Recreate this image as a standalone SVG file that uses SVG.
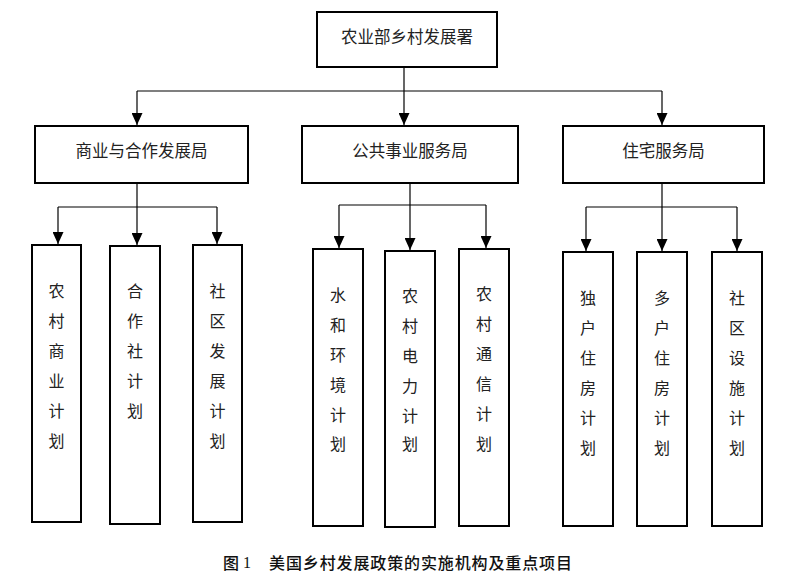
<svg xmlns="http://www.w3.org/2000/svg" width="802" height="576" viewBox="0 0 802 576">
<style>
.box{fill:#fff;stroke:#000;stroke-width:2}
.t{font-family:"Noto Sans CJK SC","Liberation Serif",sans-serif;font-size:16.5px;fill:#222;text-anchor:middle;dominant-baseline:central}
.v{font-family:"Noto Sans CJK SC","Liberation Serif",sans-serif;font-size:16px;fill:#222;text-anchor:middle;dominant-baseline:central}
.c{fill:none;stroke:#000;stroke-width:1.2}
.cap{font-family:"Noto Sans CJK SC",sans-serif;font-size:16px;fill:#111;dominant-baseline:central;font-weight:500}
</style>
<defs>
<marker id="ah" markerWidth="12" markerHeight="11" refX="12" refY="5.5" orient="auto" markerUnits="userSpaceOnUse">
<path d="M0,0 L12,5.5 L0,11 Z" fill="#000"/>
</marker>
</defs>
<rect width="802" height="576" fill="#fff"/>
<g id="connectors">
<path class="c" d="M404,67 V125" marker-end="url(#ah)"/>
<path class="c" d="M137,91 H662"/>
<path class="c" d="M137,91 V125" marker-end="url(#ah)"/>
<path class="c" d="M662,91 V125" marker-end="url(#ah)"/>
<path class="c" d="M137,183 V245" marker-end="url(#ah)"/>
<path class="c" d="M58,207 H217"/>
<path class="c" d="M58,207 V244" marker-end="url(#ah)"/>
<path class="c" d="M217,207 V244" marker-end="url(#ah)"/>
<path class="c" d="M410,183 V250" marker-end="url(#ah)"/>
<path class="c" d="M339,205 H486"/>
<path class="c" d="M339,205 V248" marker-end="url(#ah)"/>
<path class="c" d="M486,205 V248" marker-end="url(#ah)"/>
<path class="c" d="M662,183 V251" marker-end="url(#ah)"/>
<path class="c" d="M586,207 H737"/>
<path class="c" d="M586,207 V251" marker-end="url(#ah)"/>
<path class="c" d="M737,207 V251" marker-end="url(#ah)"/>
</g>
<g id="root"><rect class="box" x="317" y="12" width="180" height="55"/><text class="t" x="407" y="36">农业部乡村发展署</text></g>
<g id="b1"><rect class="box" x="35" y="126" width="213" height="57"/><text class="t" x="141.5" y="150">商业与合作发展局</text></g>
<g id="b2"><rect class="box" x="302" y="126" width="216" height="57"/><text class="t" x="410" y="150">公共事业服务局</text></g>
<g id="b3"><rect class="box" x="563" y="126" width="201" height="57"/><text class="t" x="663.5" y="150">住宅服务局</text></g>
<g id="p1"><rect class="box" x="32" y="245" width="49" height="277"/><text class="v"><tspan x="56.5" y="290">农</tspan><tspan x="56.5" y="320">村</tspan><tspan x="56.5" y="350">商</tspan><tspan x="56.5" y="380">业</tspan><tspan x="56.5" y="410">计</tspan><tspan x="56.5" y="440">划</tspan></text></g>
<g id="p2"><rect class="box" x="110" y="246" width="50" height="278"/><text class="v"><tspan x="135" y="290">合</tspan><tspan x="135" y="320">作</tspan><tspan x="135" y="350">社</tspan><tspan x="135" y="380">计</tspan><tspan x="135" y="410">划</tspan></text></g>
<g id="p3"><rect class="box" x="193" y="245" width="49" height="277"/><text class="v"><tspan x="217.5" y="290">社</tspan><tspan x="217.5" y="320">区</tspan><tspan x="217.5" y="350">发</tspan><tspan x="217.5" y="380">展</tspan><tspan x="217.5" y="410">计</tspan><tspan x="217.5" y="440">划</tspan></text></g>
<g id="p4"><rect class="box" x="313" y="249" width="50" height="277"/><text class="v"><tspan x="338" y="294">水</tspan><tspan x="338" y="324">和</tspan><tspan x="338" y="354">环</tspan><tspan x="338" y="384">境</tspan><tspan x="338" y="414">计</tspan><tspan x="338" y="443">划</tspan></text></g>
<g id="p5"><rect class="box" x="385" y="251" width="50" height="276"/><text class="v"><tspan x="410" y="295">农</tspan><tspan x="410" y="325">村</tspan><tspan x="410" y="355">电</tspan><tspan x="410" y="385">力</tspan><tspan x="410" y="415">计</tspan><tspan x="410" y="443">划</tspan></text></g>
<g id="p6"><rect class="box" x="459" y="249" width="50" height="277"/><text class="v"><tspan x="484" y="293">农</tspan><tspan x="484" y="323">村</tspan><tspan x="484" y="353">通</tspan><tspan x="484" y="383">信</tspan><tspan x="484" y="413">计</tspan><tspan x="484" y="443">划</tspan></text></g>
<g id="p7"><rect class="box" x="563" y="252" width="50" height="274"/><text class="v"><tspan x="588" y="297">独</tspan><tspan x="588" y="327">户</tspan><tspan x="588" y="357">住</tspan><tspan x="588" y="387">房</tspan><tspan x="588" y="417">计</tspan><tspan x="588" y="447">划</tspan></text></g>
<g id="p8"><rect class="box" x="637" y="252" width="50" height="274"/><text class="v"><tspan x="662" y="297">多</tspan><tspan x="662" y="327">户</tspan><tspan x="662" y="357">住</tspan><tspan x="662" y="387">房</tspan><tspan x="662" y="417">计</tspan><tspan x="662" y="447">划</tspan></text></g>
<g id="p9"><rect class="box" x="712" y="252" width="50" height="274"/><text class="v"><tspan x="737" y="297">社</tspan><tspan x="737" y="327">区</tspan><tspan x="737" y="357">设</tspan><tspan x="737" y="387">施</tspan><tspan x="737" y="417">计</tspan><tspan x="737" y="447">划</tspan></text></g>
<g id="caption">
<text class="cap" x="223" y="562">图<tspan font-family="Liberation Serif" font-weight="normal"> 1</tspan></text>
<text class="cap" x="269" y="562" textLength="303" lengthAdjust="spacing">美国乡村发展政策的实施机构及重点项目</text>
</g>
</svg>
